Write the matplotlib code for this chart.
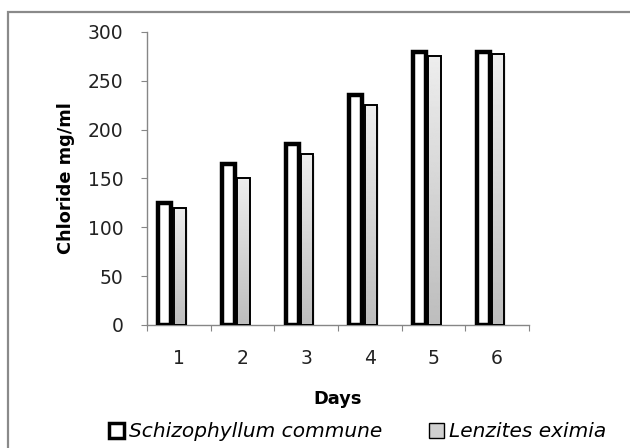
import matplotlib
matplotlib.use('Agg')
import matplotlib.pyplot as plt
import numpy as np
from matplotlib.patches import Patch, Rectangle

days = [1, 2, 3, 4, 5, 6]
schizophyllum = [125, 165, 185, 235, 280, 280]
lenzites = [120, 150, 175, 225, 275, 277]
series_names = ['Schizophyllum commune', 'Lenzites eximia']

plt.rcParams['font.family'] = ['DejaVu Sans']

fig = plt.figure(figsize=(6.3, 4.48), dpi=100)
ax = fig.add_axes([0.2333, 0.2746, 0.6064, 0.654])

# outer frame of the chart area (runs off the right and bottom edges)
fig.patches.append(Rectangle((0.0127, -0.05), 1.2, 1.023, transform=fig.transFigure,
                             fill=False, edgecolor='#8a8a8a', linewidth=1.6))

x = np.array(days, dtype=float)

# gray bars with vertical gradient
gbars = ax.bar(x + 0.016, lenzites, width=0.19, color='none', edgecolor='black',
               linewidth=1.4, zorder=3)
grad = np.linspace(0.93, 0.74, 256).reshape(-1, 1)
for b in gbars:
    x0, w, h = b.get_x(), b.get_width(), b.get_height()
    # soft shadow
    ax.add_patch(Rectangle((x0 + 0.03, 0), w, h - 2, facecolor='#d8d8d8',
                           edgecolor='none', alpha=0.5, zorder=1))
    im = ax.imshow(grad, extent=[x0, x0 + w, 0, h], cmap='gray', vmin=0, vmax=1,
                   aspect='auto', origin='upper', zorder=2)
    im.set_clip_path(b)

# white bars with thick black edges
ax.bar(x - 0.22, schizophyllum, width=0.2, color='white', edgecolor='black',
       linewidth=3.2, zorder=4)

ax.set_xlim(0.5, 6.5)
ax.set_ylim(0, 300)
ax.set_yticks(range(0, 301, 50))

ax.set_xticks(np.arange(0.5, 6.6, 1.0))
ax.set_xticklabels([])
ax.set_xticks(x, minor=True)
ax.set_xticklabels([str(d) for d in days], minor=True)
ax.tick_params(axis='x', which='major', length=4, color='#868686', direction='out')
ax.tick_params(axis='x', which='minor', length=0, pad=17, labelsize=13.5,
               labelcolor='#222222')
ax.tick_params(axis='y', length=4, color='#868686', pad=13, labelsize=13.5,
               labelcolor='#222222')

for s in ['top', 'right']:
    ax.spines[s].set_visible(False)
for s in ['left', 'bottom']:
    ax.spines[s].set_color('#868686')
    ax.spines[s].set_linewidth(1.0)

ax.set_ylabel('Chloride mg/ml', fontsize=12.8, fontweight='bold', labelpad=9)
ax.set_xlabel('Days', fontsize=12.8, fontweight='bold', labelpad=16)

handles = [Patch(facecolor='white', edgecolor='black', linewidth=2.5),
           Patch(facecolor='#d0d0d0', edgecolor='black', linewidth=1.0)]
fig.legend(handles, series_names, loc='center', bbox_to_anchor=(0.568, 0.036),
           ncol=2, frameon=False, prop={'style': 'italic', 'size': 14.5},
           handlelength=0.75, handleheight=0.75, handletextpad=0.25, columnspacing=2.3)

fig.savefig('out.png', dpi=100)
